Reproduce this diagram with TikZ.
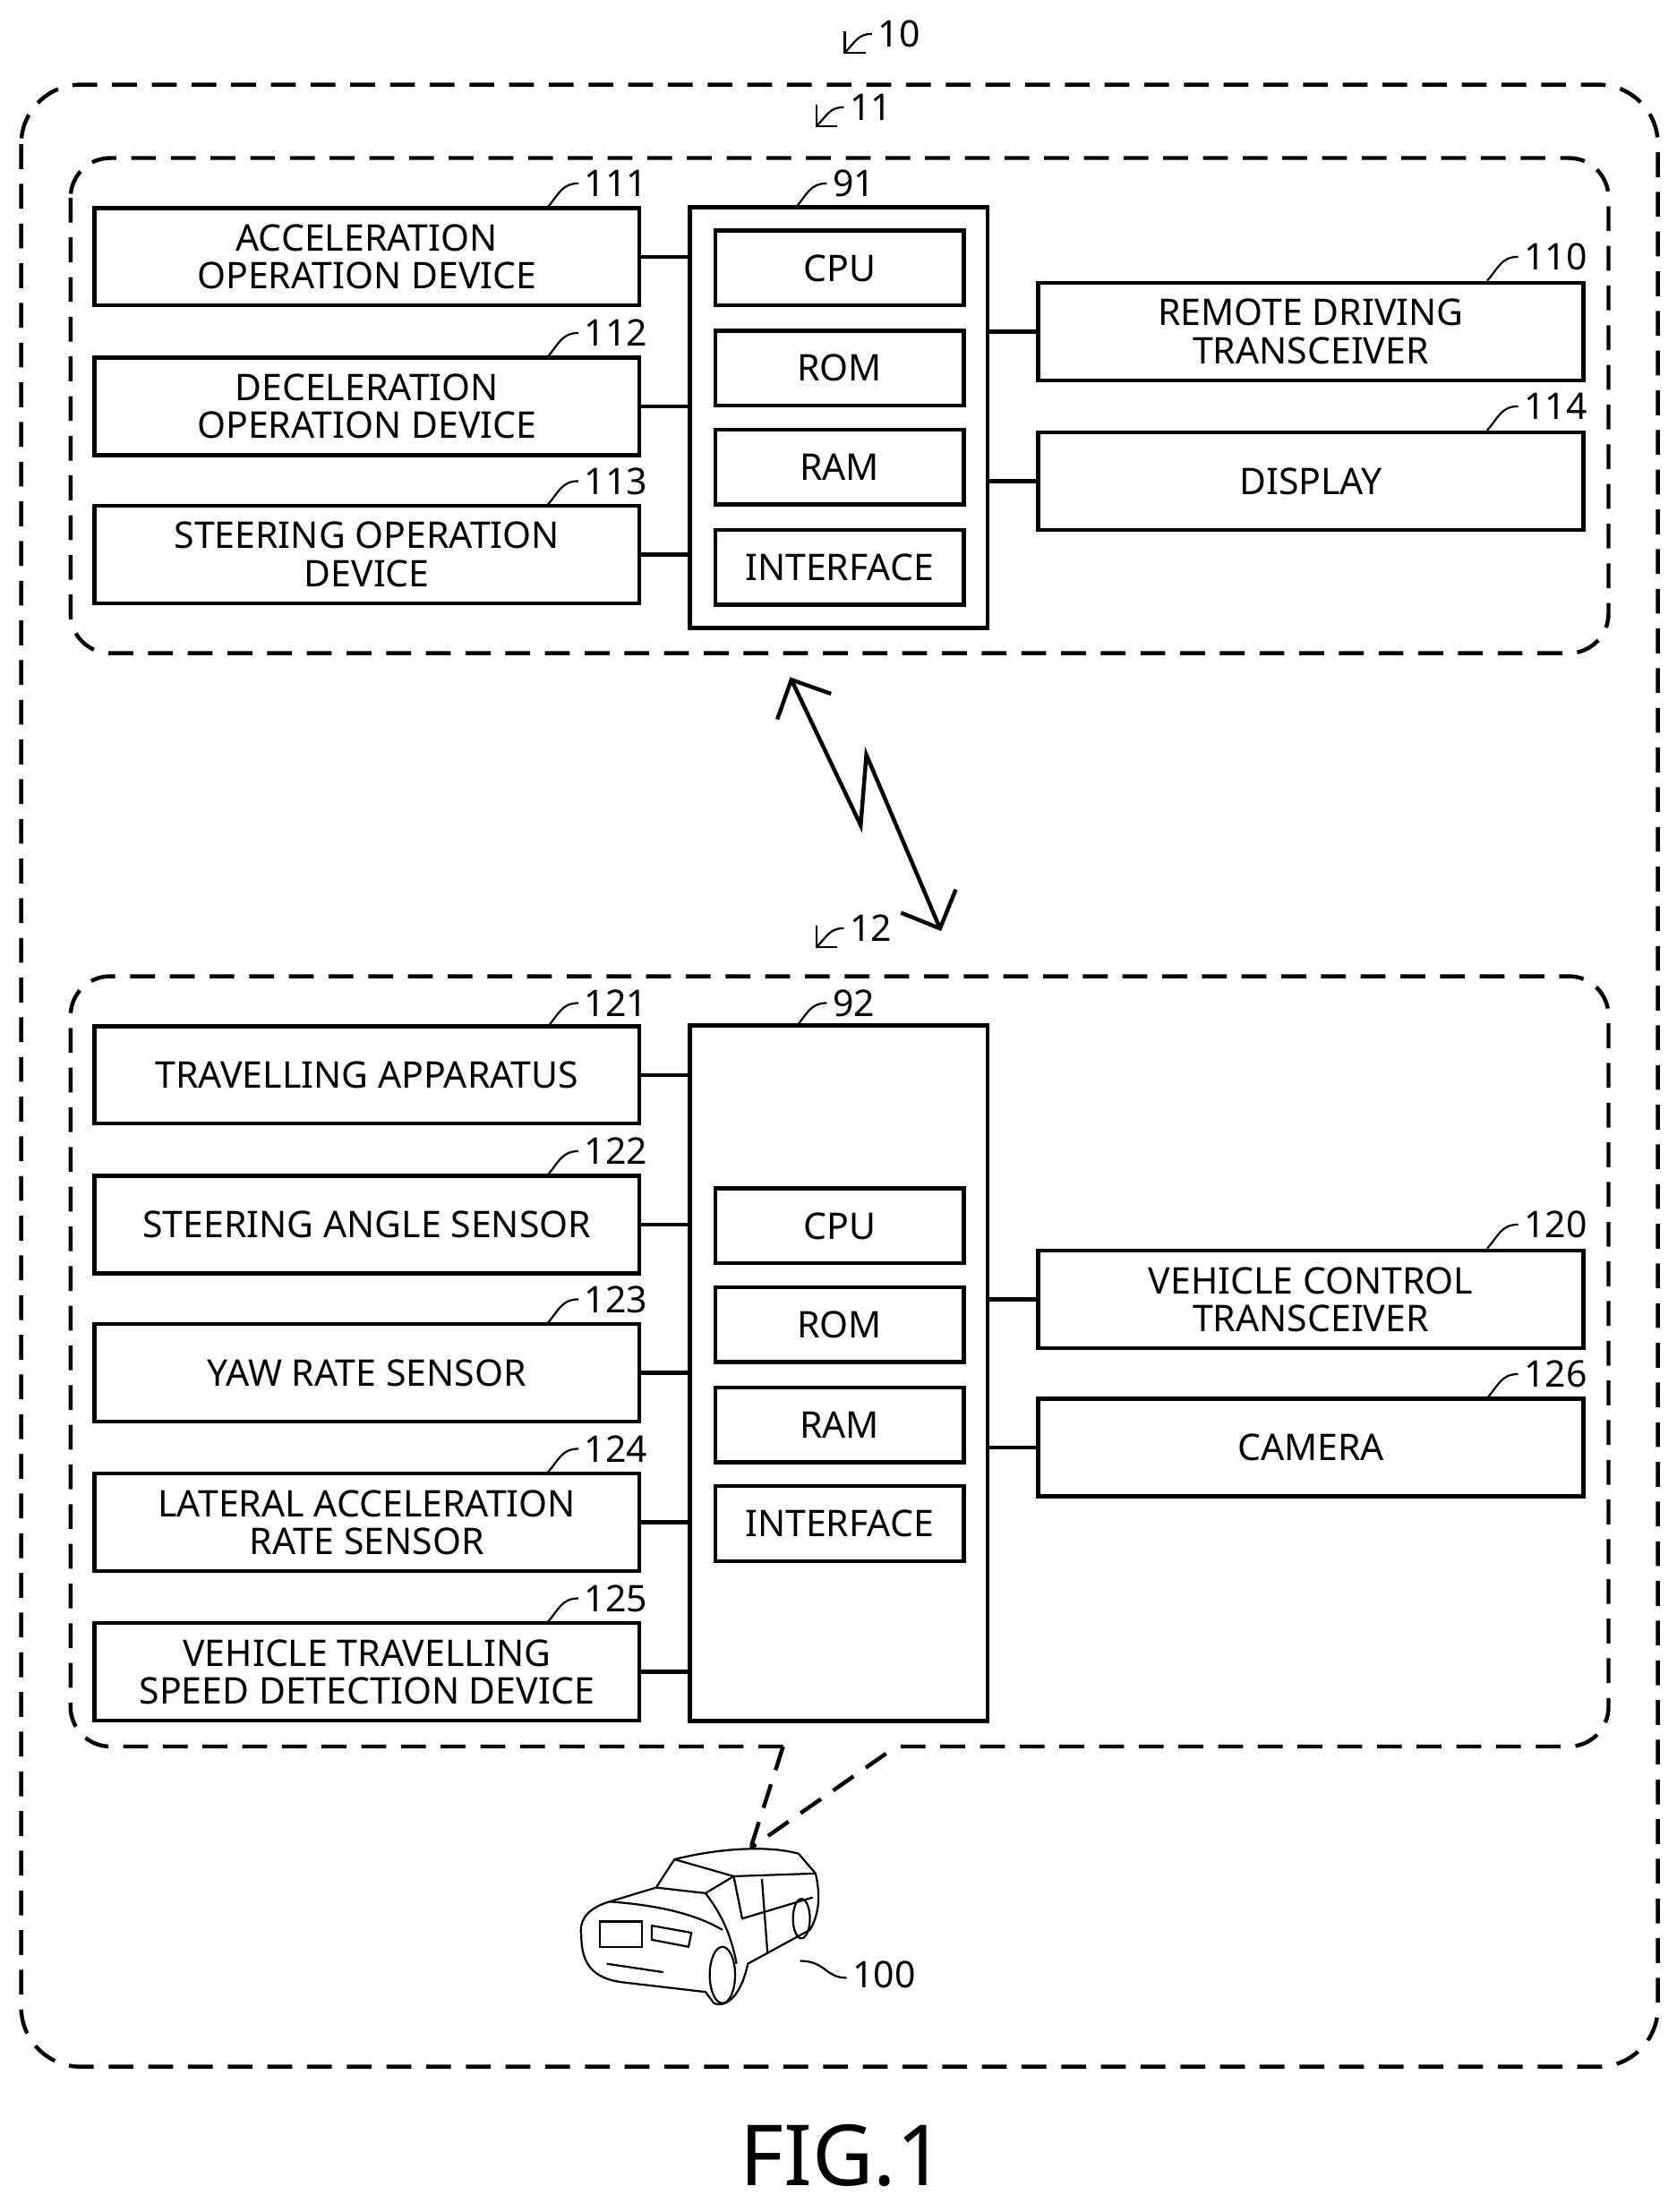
\documentclass[tikz,border=0pt]{standalone}
\usepackage{fontspec}
\setmainfont{Noto Sans}
\usetikzlibrary{arrows.meta}

\tikzset{
  box/.style={draw, thick, minimum width=3.86cm, minimum height=0.69cm, align=center,
    inner sep=1pt, font=\fontsize{7.4}{7.6}\selectfont},
  unit/.style={draw, thick, minimum width=1.76cm, minimum height=0.53cm,
    font=\fontsize{7.4}{7.6}\selectfont},
  group/.style={draw, thick, dash pattern=on 5pt off 3pt, rounded corners=8pt},
  link/.style={thick},
  lbl/.style={font=\fontsize{7.4}{7.6}\selectfont, anchor=west, inner sep=1pt},
}
% reference numeral with a small leader
\newcommand{\refnum}[3]{%
  \draw[thin] (#1,#2) .. controls (#1-12,#2) and (#1-14,#2+8) .. (#1-22,#2+17);
  \node[lbl] at (#1,#2) {#3};}
\newcommand{\reftip}[3]{%
  \draw[thin, -{Straight Barb[length=3pt]}] (#1,#2) .. controls (#1-10,#2) and (#1-12,#2+6) .. (#1-20,#2+14);
  \node[lbl] at (#1,#2) {#3};}

\begin{document}
\begin{tikzpicture}[x=0.01cm, y=-0.01cm]
  \useasboundingbox (0,0) rectangle (1188,1568);

  % outer system
  \draw[group, rounded corners=12pt] (15,60) rectangle (1175,1465);
  \reftip{618}{24}{10}

  % remote operation device
  \draw[group] (50,112) rectangle (1140,463);
  \reftip{598}{76}{11}

  \node[box] (acc) at (260,182) {ACCELERATION\\OPERATION DEVICE};
  \node[box] (dec) at (260,288) {DECELERATION\\OPERATION DEVICE};
  \node[box] (str) at (260,393) {STEERING OPERATION\\DEVICE};
  \refnum{410}{130}{111}
  \refnum{410}{236}{112}
  \refnum{410}{341}{113}

  \draw[thick] (489,147) rectangle (700,445);
  \refnum{586}{130}{91}
  \node[unit] (cpuA) at (595,190) {CPU};
  \node[unit] (romA) at (595,261) {ROM};
  \node[unit] (ramA) at (595,331) {RAM};
  \node[unit] (ifA) at (595,402) {INTERFACE};

  \node[box] (rtx) at (929,235) {REMOTE DRIVING\\TRANSCEIVER};
  \node[box] (disp) at (929,341) {DISPLAY};
  \refnum{1076}{182}{110}
  \refnum{1076}{288}{114}

  \draw[link] (acc.east) -- (489,182);
  \draw[link] (dec.east) -- (489,288);
  \draw[link] (str.east) -- (489,393);
  \draw[link] (700,235) -- (rtx.west);
  \draw[link] (700,341) -- (disp.west);

  % wireless link
  \draw[thick, {Straight Barb[length=6pt]}-{Straight Barb[length=6pt]}]
    (560,480) -- (610,585) -- (614,535) -- (667,660);

  % vehicle control device
  \draw[group] (555,1238) -- (50,1238) -- (50,692) -- (1140,692) -- (1140,1238) -- (628,1238);
  \reftip{598}{658}{12}

  \node[box] (trv) at (260,762) {TRAVELLING APPARATUS};
  \node[box] (ang) at (260,868) {STEERING ANGLE SENSOR};
  \node[box] (yaw) at (260,973) {YAW RATE SENSOR};
  \node[box] (lat) at (260,1079) {LATERAL ACCELERATION\\RATE SENSOR};
  \node[box] (spd) at (260,1185) {VEHICLE TRAVELLING\\SPEED DETECTION DEVICE};
  \refnum{410}{711}{121}
  \refnum{410}{816}{122}
  \refnum{410}{921}{123}
  \refnum{410}{1027}{124}
  \refnum{410}{1133}{125}

  \draw[thick] (489,727) rectangle (700,1220);
  \refnum{586}{711}{92}
  \node[unit] (cpuB) at (595,869) {CPU};
  \node[unit] (romB) at (595,939) {ROM};
  \node[unit] (ramB) at (595,1010) {RAM};
  \node[unit] (ifB) at (595,1080) {INTERFACE};

  \node[box] (vtx) at (929,921) {VEHICLE CONTROL\\TRANSCEIVER};
  \node[box] (cam) at (929,1026) {CAMERA};
  \refnum{1076}{868}{120}
  \refnum{1076}{974}{126}

  \draw[link] (trv.east) -- (489,762);
  \draw[link] (ang.east) -- (489,868);
  \draw[link] (yaw.east) -- (489,973);
  \draw[link] (lat.east) -- (489,1079);
  \draw[link] (spd.east) -- (489,1185);
  \draw[link] (700,921) -- (vtx.west);
  \draw[link] (700,1026) -- (cam.west);

  % callout to vehicle
  \coordinate (roof) at (532,1310);
  \draw[thick, dash pattern=on 5pt off 3pt] (555,1238) -- (roof);
  \draw[thick, dash pattern=on 5pt off 3pt] (628,1243) -- (roof);

  % vehicle 100
  \begin{scope}[thin]
    % body
    \draw (412,1372) .. controls (410,1360) and (418,1352) .. (432,1348)
      -- (465,1338) -- (478,1318) .. controls (510,1310) and (545,1308) .. (566,1314)
      -- (578,1328) .. controls (582,1345) and (580,1358) .. (574,1368)
      -- (530,1392) .. controls (526,1412) and (516,1424) .. (506,1420)
      -- (500,1412) -- (440,1405) .. controls (420,1402) and (412,1392) .. (412,1372) -- cycle;
    % windscreen and roof
    \draw (465,1338) -- (500,1342) -- (520,1330);
    \draw (478,1318) -- (520,1330) -- (578,1328);
    \draw (500,1342) .. controls (510,1355) and (518,1370) .. (522,1392);
    \draw (432,1348) .. controls (460,1350) and (490,1355) .. (512,1368);
    % doors
    \draw (540,1332) -- (544,1385);
    \draw (520,1330) -- (526,1360) -- (576,1345);
    % grille and lamps
    \draw (425,1362) rectangle (455,1380);
    \draw (462,1365) -- (490,1370) -- (488,1380) -- (462,1375) -- cycle;
    \draw (430,1392) -- (470,1398);
    % wheels
    \draw (512,1400) ellipse (9 and 20);
    \draw (568,1360) ellipse (6 and 14);
  \end{scope}
  \draw[thin] (567,1390) .. controls (585,1390) and (585,1402) .. (600,1402);
  \node[lbl] at (600,1400) {100};

  \node[font=\fontsize{17}{19}\selectfont] at (597,1528) {FIG.1};
\end{tikzpicture}
\end{document}
